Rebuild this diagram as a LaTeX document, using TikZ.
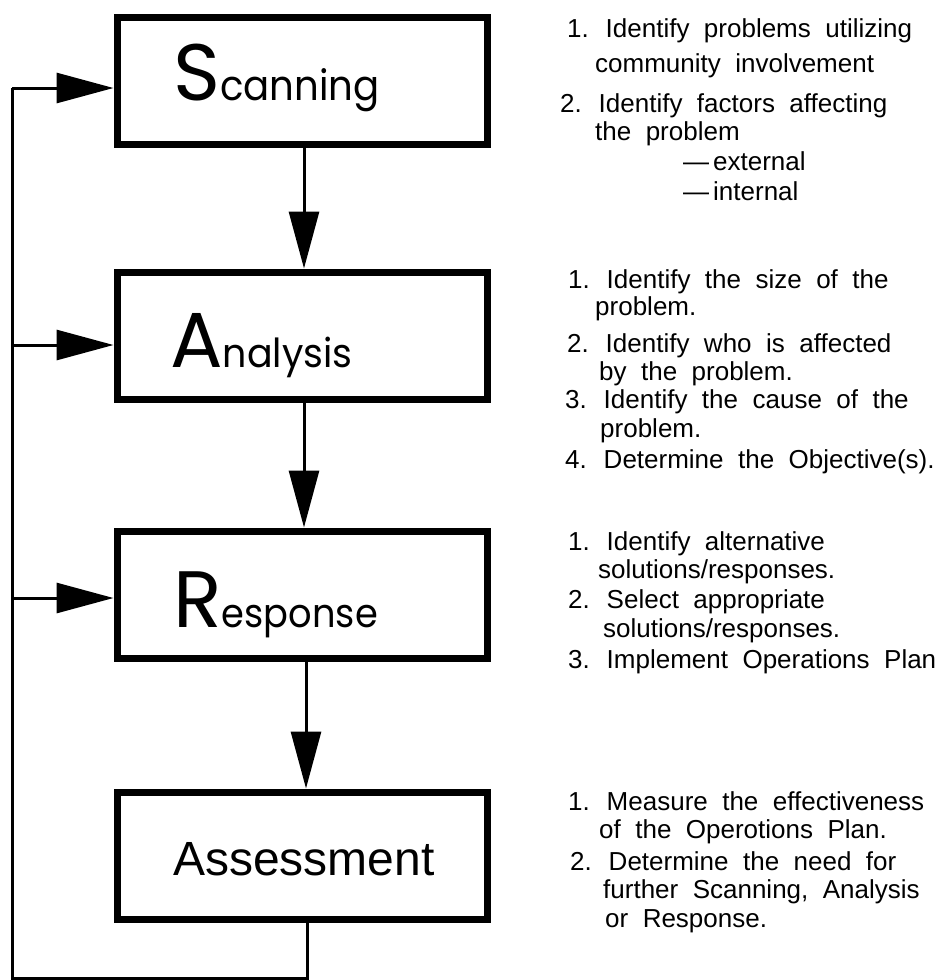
\documentclass[tikz,border=0pt]{standalone}
\usepackage{graphicx}
\usepackage{fontspec}
\setmainfont{Liberation Sans}
\newfontfamily\geo{Poppins}
\newfontfamily\rtfont[WordSpace=2]{Liberation Sans}
\usetikzlibrary{arrows.meta}
\begin{document}
\begin{tikzpicture}[x=1pt,y=-1pt,
 box/.style={draw, line width=7pt, minimum width=370pt, minimum height=127pt, inner sep=0pt},
 conn/.style={line width=3pt},
 arr/.style={conn, -{Triangle[length=57pt,width=30pt]}},
 lbl/.style={anchor=base west, inner sep=0pt},
 rt/.style={anchor=base west, inner sep=0pt, font=\rtfont\fontsize{26}{30}\selectfont},
]
\useasboundingbox (0,0) rectangle (944,980);
% boxes
\node[box] (scan) at (302,81) {};
\node[box] (ana) at (302,335.5) {};
\node[box] (resp) at (302,594.5) {};
\node[box] (assess) at (302,855.5) {};
% box labels
\node[lbl] (tscan) at (173,100) {{\geo\fontsize{80}{80}\selectfont S}\scalebox{0.92}[1]{\geo\fontsize{42}{42}\selectfont canning}};
\node[lbl] (tana) at (170,367) {{\geo\fontsize{78}{78}\selectfont A}\scalebox{0.95}[1]{\geo\fontsize{40}{40}\selectfont nalysis}};
\node[lbl] (tresp) at (173,627) {{\geo\fontsize{80}{80}\selectfont R}\scalebox{0.92}[1]{\geo\fontsize{40}{40}\selectfont esponse}};
\node[lbl] (tassess) at (173,875) {\fontsize{48}{48}\selectfont Assessment};
% down arrows
\draw[arr] ([xshift=2pt]scan.south) -- ([xshift=2pt]ana.north);
\draw[arr] ([xshift=2pt]ana.south) -- ([xshift=2pt]resp.north);
\draw[arr] ([xshift=4pt]resp.south) -- ([xshift=4pt]assess.north);
% feedback loop
\coordinate (fbS) at (12,88);
\coordinate (fbA) at (12,345);
\coordinate (fbR) at (12,598);
\coordinate (bl) at (12,978);
\draw[conn] ([xshift=5pt]assess.south) |- (bl) -- (fbS);
\draw[arr] (fbS) -- (fbS -| scan.west);
\draw[arr] (fbA) -- (fbA -| ana.west);
\draw[arr] (fbR) -- (fbR -| resp.west);
% right texts: Scanning
\node[rt] (s1) at (567,37) {1. Identify problems utilizing};
\node[rt] (s1b) at (595,72) {community involvement};
\node[rt] (s2) at (560,112) {2. Identify factors affecting};
\node[rt] (s2b) at (595,140) {the problem};
\node[rt] (s2c) at (683,170) {—\hspace{4pt}external};
\node[rt] (s2d) at (683,200) {—\hspace{4pt}internal};
% Analysis
\node[rt] (a1) at (568,288) {1. Identify the size of the};
\node[rt] (a1b) at (595,315) {problem.};
\node[rt] (a2) at (567,352) {2. Identify who is affected};
\node[rt] (a2b) at (599,380) {by the problem.};
\node[rt] (a3) at (565,408) {3. Identify the cause of the};
\node[rt] (a3b) at (600,437) {problem.};
\node[rt] (a4) at (565,468) {4. Determine the Objective(s).};
% Response
\node[rt] (r1) at (568,550) {1. Identify alternative};
\node[rt] (r1b) at (598,578) {solutions/responses.};
\node[rt] (r2) at (568,608) {2. Select appropriate};
\node[rt] (r2b) at (603,637) {solutions/responses.};
\node[rt] (r3) at (568,668) {3. Implement Operations Plan};
% Assessment
\node[rt] (m1) at (568,810) {1. Measure the effectiveness};
\node[rt] (m1b) at (599,838) {of the Operotions Plan.};
\node[rt] (m2) at (570,870) {2. Determine the need for};
\node[rt] (m2b) at (603,898) {further Scanning, Analysis};
\node[rt] (m2c) at (605,927) {or Response.};
\end{tikzpicture}
\end{document}
